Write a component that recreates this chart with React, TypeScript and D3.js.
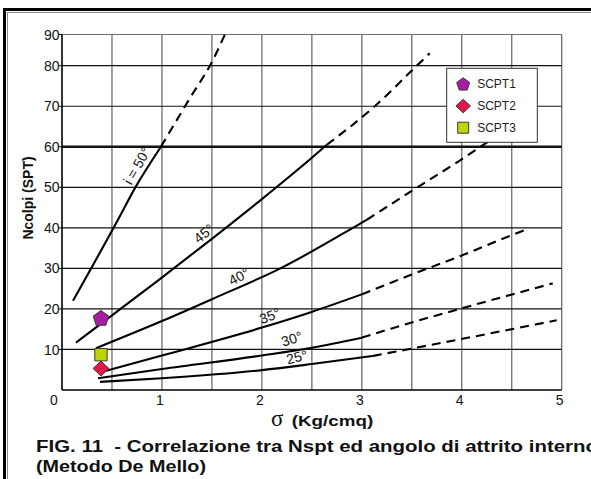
import React from "react";
import * as d3 from "d3";

type Pt = [number, number];

// Axis ticks and grid
const yTickValues = [10, 20, 30, 40, 50, 60, 70, 80, 90];
const xTickValues = [1, 2, 3, 4, 5];
const xGridValues = [0.5, 1, 1.5, 2, 2.5, 3, 3.5, 4, 4.5, 5];

// De Mello curves: N(SPT) vs effective stress, one per friction angle
const phi50Solid: Pt[] = [[0.11, 22], [0.56, 42], [0.73, 49.8], [0.99, 60]];
const phi50Dashed: Pt[] = [[0.99, 60], [1.28, 72], [1.5, 81.2], [1.63, 90]];

const phi45Solid: Pt[] = [[0.14, 11.7], [0.5, 18.4], [0.96, 27], [1.5, 37.3], [2.0, 47.1], [2.5, 57.3], [2.65, 60.5]];
const phi45Dashed: Pt[] = [[2.65, 60.5], [3.13, 70], [3.55, 80], [3.68, 84]];

const phi40Solid: Pt[] = [[0.34, 10.3], [1.0, 17.0], [1.5, 22.4], [2.2, 30.2], [2.98, 41], [3.05, 42]];
const phi40Dashed: Pt[] = [[3.05, 42], [3.48, 48.8], [3.98, 56.6], [4.2, 60.2], [4.45, 64.5]];

const phi35Solid: Pt[] = [[0.42, 4.6], [1.0, 8.5], [2.0, 15.4], [2.49, 19.2], [3.0, 23.6]];
const phi35Dashed: Pt[] = [[3.0, 23.6], [3.48, 28.3], [3.98, 33], [4.48, 38], [4.65, 39.6]];

const phi30Solid: Pt[] = [[0.36, 2.9], [1.0, 5.2], [2.0, 8.5], [2.5, 10.4], [3.0, 12.9]];
const phi30Dashed: Pt[] = [[3.0, 12.9], [3.3, 15.2], [3.98, 20.0], [4.91, 26.3]];

const phi25Solid: Pt[] = [[0.38, 2.0], [1.0, 2.9], [2.0, 4.9], [2.5, 6.4], [3.11, 8.4]];
const phi25Dashed: Pt[] = [[3.11, 8.4], [3.98, 12.5], [4.95, 17.2]];

const curveLabels = ["i = 50°", "45°", "40°", "35°", "30°", "25°"];

// CPT-derived points
const pointNames = ["SCPT1", "SCPT2", "SCPT3"];
const pointSigma = [0.39, 0.39, 0.39];
const pointN = [17.8, 5.3, 8.7];

const curves = [
  { solid: phi50Solid, dashed: phi50Dashed },
  { solid: phi45Solid, dashed: phi45Dashed },
  { solid: phi40Solid, dashed: phi40Dashed },
  { solid: phi35Solid, dashed: phi35Dashed },
  { solid: phi30Solid, dashed: phi30Dashed },
  { solid: phi25Solid, dashed: phi25Dashed },
];

// label placement (data coords) and rotation for each curve label
const labelPlacement = [
  { x: 0.75, y: 55.3, rot: -60 },
  { x: 1.42, y: 38.6, rot: -38 },
  { x: 1.77, y: 28.0, rot: -27 },
  { x: 2.08, y: 18.3, rot: -21 },
  { x: 2.3, y: 12.6, rot: -18 },
  { x: 2.35, y: 8.1, rot: -14 },
];

const FONT = "'Liberation Sans', Arial, sans-serif";

function polygonPath(n: number, r: number, rot: number, cx: number, cy: number) {
  const pts: Pt[] = d3.range(n).map((i) => {
    const a = rot + (i * 2 * Math.PI) / n;
    return [cx + r * Math.sin(a), cy - r * Math.cos(a)];
  });
  return "M" + pts.map((p) => p.join(",")).join("L") + "Z";
}

function diamondPath(cx: number, cy: number, hw: number, hh: number) {
  return `M${cx},${cy - hh}L${cx + hw},${cy}L${cx},${cy + hh}L${cx - hw},${cy}Z`;
}

const markerStyles = [
  { fill: "#A51DA3", kind: "pentagon" },
  { fill: "#E4174C", kind: "diamond" },
  { fill: "#BFD400", kind: "square" },
];

function markerPath(kind: string, cx: number, cy: number, big: boolean) {
  if (kind === "pentagon") return polygonPath(5, big ? 8.2 : 6.8, 0, cx, cy + (big ? 0.8 : 0.6));
  if (kind === "diamond") return big ? diamondPath(cx, cy, 8, 7.4) : diamondPath(cx, cy, 7.3, 6.8);
  const s = big ? 12.3 : 11;
  return `M${cx - s / 2},${cy - s / 2}h${s}v${s}h${-s}Z`;
}

export default function App() {
  const W = 591;
  const H = 479;
  const x = d3.scaleLinear().domain([0, 5]).range([62, 561.7]);
  const y = d3.scaleLinear().domain([0, 80, 90]).range([390, 65.7, 34.5]);
  const line = d3
    .line<Pt>()
    .x((d) => x(d[0]))
    .y((d) => y(d[1]))
    .curve(d3.curveMonotoneX);

  const legendX = 446.7;
  const legendY = 68.3;
  const legendRowsY = [84, 106, 127.7];

  return (
    <svg
      width={W}
      height={H}
      style={{ position: "absolute", left: 0, top: 0, background: "#fff" }}
      fontFamily={FONT}
    >
      <rect x={0} y={0} width={W} height={H} fill="#fff" />
      {/* page frame */}
      <rect x={4.5} y={9.5} width={620} height={520} fill="none" stroke="#000" strokeWidth={3} />
      <rect x={7.5} y={12.5} width={610} height={510} fill="none" stroke="#888" strokeWidth={1} />

      {/* vertical grid */}
      {xGridValues.map((v) => (
        <line key={"vg" + v} x1={x(v)} x2={x(v)} y1={y(90)} y2={y(0)} stroke="#6e6e6e" strokeWidth={1.3} />
      ))}
      {/* horizontal grid */}
      {yTickValues.map((v) => (
        <line
          key={"hg" + v}
          x1={x(0)}
          x2={x(5)}
          y1={y(v)}
          y2={y(v)}
          stroke={v === 90 ? "#6e6e6e" : "#111"}
          strokeWidth={v === 60 ? 2.6 : 1.2}
        />
      ))}
      {/* y ticks */}
      {yTickValues.map((v) => (
        <line key={"yt" + v} x1={x(0) - 3} x2={x(0)} y1={y(v)} y2={y(v)} stroke="#111" strokeWidth={1} />
      ))}
      {/* axes */}
      <line x1={x(0)} x2={x(0)} y1={y(90)} y2={y(0)} stroke="#000" strokeWidth={1.6} />
      <line x1={x(0)} x2={x(5)} y1={y(0)} y2={y(0)} stroke="#000" strokeWidth={1.6} />

      {/* curves */}
      {curves.map((c, i) => (
        <g key={"c" + i}>
          <path d={line(c.solid) || ""} fill="none" stroke="#000" strokeWidth={2.1} />
          <path d={line(c.dashed) || ""} fill="none" stroke="#000" strokeWidth={2.1} strokeDasharray="9,6" />
        </g>
      ))}

      {/* curve labels */}
      {curveLabels.map((t, i) => {
        const p = labelPlacement[i];
        return (
          <text
            key={"cl" + i}
            transform={`translate(${x(p.x)},${y(p.y)}) rotate(${p.rot})`}
            textAnchor="middle"
            dy="0.35em"
            fontSize={14}
            fill="#111"
          >
            {t}
          </text>
        );
      })}

      {/* measured points */}
      {pointNames.map((n, i) => (
        <path
          key={"pt" + n}
          d={markerPath(markerStyles[i].kind, x(pointSigma[i]), y(pointN[i]), true)}
          fill={markerStyles[i].fill}
          stroke="#3a3a3a"
          strokeWidth={1}
        />
      ))}

      {/* tick labels */}
      {yTickValues.map((v) => (
        <text key={"yl" + v} x={59.5} y={y(v)} dy="0.36em" textAnchor="end" fontSize={14} fill="#111">
          {v}
        </text>
      ))}
      <text x={54} y={405} textAnchor="middle" fontSize={14} fill="#111">0</text>
      {xTickValues.map((v) => (
        <text key={"xl" + v} x={x(v) - 2} y={405} textAnchor="middle" fontSize={14} fill="#111">
          {v}
        </text>
      ))}

      {/* axis titles */}
      <text
        transform={`translate(33,198) rotate(-90)`}
        textAnchor="middle"
        fontSize={14}
        fontWeight="bold"
        fill="#111"
      >
        Ncolpi (SPT)
      </text>
      <text x={271} y={425.5} fontSize={23} fontFamily="'Liberation Serif', 'Times New Roman', serif" fill="#111">
        σ
      </text>
      <text x={291.7} y={425.5} fontSize={15} fontWeight="bold" fill="#111" textLength={81.5} lengthAdjust="spacingAndGlyphs">
        (Kg/cmq)
      </text>

      {/* legend */}
      <rect x={legendX} y={legendY} width={90.6} height={74} fill="#fff" stroke="#333" strokeWidth={1} />
      {pointNames.map((n, i) => (
        <g key={"lg" + n}>
          <path
            d={markerPath(markerStyles[i].kind, legendX + 16.5, legendRowsY[i], false)}
            fill={markerStyles[i].fill}
            stroke="#3a3a3a"
            strokeWidth={1}
          />
          <text x={legendX + 30.5} y={legendRowsY[i]} dy="0.36em" fontSize={12} fill="#222">
            {n}
          </text>
        </g>
      ))}

      {/* caption */}
      <text
        x={36}
        y={452}
        fontSize={17}
        fontWeight="bold"
        fill="#111"
        style={{ whiteSpace: "pre" }}
        textLength={562}
        lengthAdjust="spacingAndGlyphs"
      >
        {"FIG. 11  - Correlazione tra Nspt ed angolo di attrito interno"}
      </text>
      <text x={36} y={471.5} fontSize={17} fontWeight="bold" fill="#111" textLength={170} lengthAdjust="spacingAndGlyphs">
        (Metodo De Mello)
      </text>
    </svg>
  );
}
